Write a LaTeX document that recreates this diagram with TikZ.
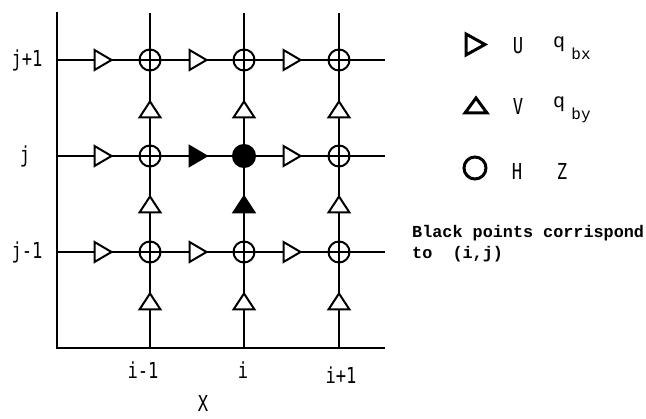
\documentclass[tikz,border=0pt]{standalone}
\usepackage{fontspec}
\newfontfamily\lblfont[FakeStretch=0.78]{DejaVu Sans Mono}
\newfontfamily\twfont{Liberation Mono}
\begin{document}
\begin{tikzpicture}[x=1pt,y=-1pt,
  gridline/.style={line width=2.2pt},
  hmark/.style={circle,draw,line width=2pt,minimum size=21pt,inner sep=0pt},
  hfill/.style={circle,draw,fill=black,line width=2pt,minimum size=22pt,inner sep=0pt},
  tri/.style={draw,fill=white,line width=2pt,line join=miter},
  tribk/.style={draw,fill=black,line width=2pt,line join=miter},
  legtri/.style={draw,fill=white,line width=3pt,line join=miter},
  lbl/.style={inner sep=0pt,font=\lblfont\fontsize{22}{24}\selectfont},
  qlbl/.style={inner sep=0pt,font=\twfont\fontsize{20}{22}\selectfont},
  sublbl/.style={inner sep=0pt,font=\twfont\fontsize{16}{18}\selectfont},
  note/.style={inner sep=0pt,anchor=base west,font=\twfont\bfseries\fontsize{16.8}{20}\selectfont}]
\useasboundingbox (0,0) rectangle (646,419);
% axes
\coordinate (axtop) at (57,12);
\coordinate (origin) at (57,348);
\coordinate (axright) at (385,348);
\draw[gridline] (axtop) -- (origin) -- (axright);
% columns
\foreach \x/\n in {150/a,244/b,339/c}{
  \coordinate (ct\n) at (\x,13);
  \coordinate (cb\n) at (\x,348);
  \draw[gridline] (ct\n) -- (cb\n);
}
% rows
\foreach \y/\n in {60/a,156/b,252/c}{
  \coordinate (rl\n) at (57,\y);
  \coordinate (rr\n) at (385,\y);
  \draw[gridline] (rl\n) -- (rr\n);
}
% H points
\foreach \x/\y/\n in {150/60/h1,244/60/h2,339/60/h3,150/156/h4,339/156/h6,150/252/h7,244/252/h8,339/252/h9}
  \node[hmark] (\n) at (\x,\y) {};
\node[hfill] (h5) at (244,156) {};
% U points
\foreach \x/\y in {103/60,198/60,292/60,103/156,292/156,103/252,198/252,292/252}
  \draw[tri] (\x-8.5,\y-10) -- (\x-8.5,\y+10) -- (\x+8.5,\y) -- cycle;
\draw[tribk] (198-8.5,156-10) -- (198-8.5,156+10) -- (198+8.5,156) -- cycle;
% V points
\foreach \x/\y in {150/110,244/110,339/110,150/205,339/205,150/302,244/302,339/302}
  \draw[tri] (\x-10.5,\y+7.5) -- (\x+10.5,\y+7.5) -- (\x,\y-8.5) -- cycle;
\draw[tribk] (244-10.5,205+7.5) -- (244+10.5,205+7.5) -- (244,205-8.5) -- cycle;
% axis labels
\node[lbl] (jp) at (27,60) {j+1};
\node[lbl] (jj) at (25,156) {j};
\node[lbl] (jm) at (27,252) {j-1};
\node[lbl] (im) at (143,370) {i-1};
\node[lbl] (ii) at (243,370) {i};
\node[lbl] (ip) at (341,375) {i+1};
\node[lbl,anchor=base] (xx) at (203,412) {X};
% legend
\draw[legtri] (466,34) -- (466,55) -- (485,44.5) -- cycle;
\draw[legtri] (465,113) -- (487,113) -- (476,98) -- cycle;
\node[circle,draw,line width=3pt,minimum size=22pt,inner sep=0pt] (legh) at (475,168) {};
\node[lbl] (lu) at (518,46) {U};
\node[lbl] (lv) at (518,106) {V};
\node[lbl] (lh) at (517,171) {H};
\node[lbl] (lz) at (562,171) {Z};
\node[qlbl,anchor=base] (q1) at (559,48) {q};
\node[sublbl,anchor=base] (s1) at (581,60) {bx};
\node[qlbl,anchor=base] (q2) at (559,108) {q};
\node[sublbl,anchor=base] (s2) at (581,120) {by};
\node[note] (n1) at (412,238) {Black points corrispond};
\node[note] (n2) at (412,259) {to~\ (i,j)};
\end{tikzpicture}
\end{document}
